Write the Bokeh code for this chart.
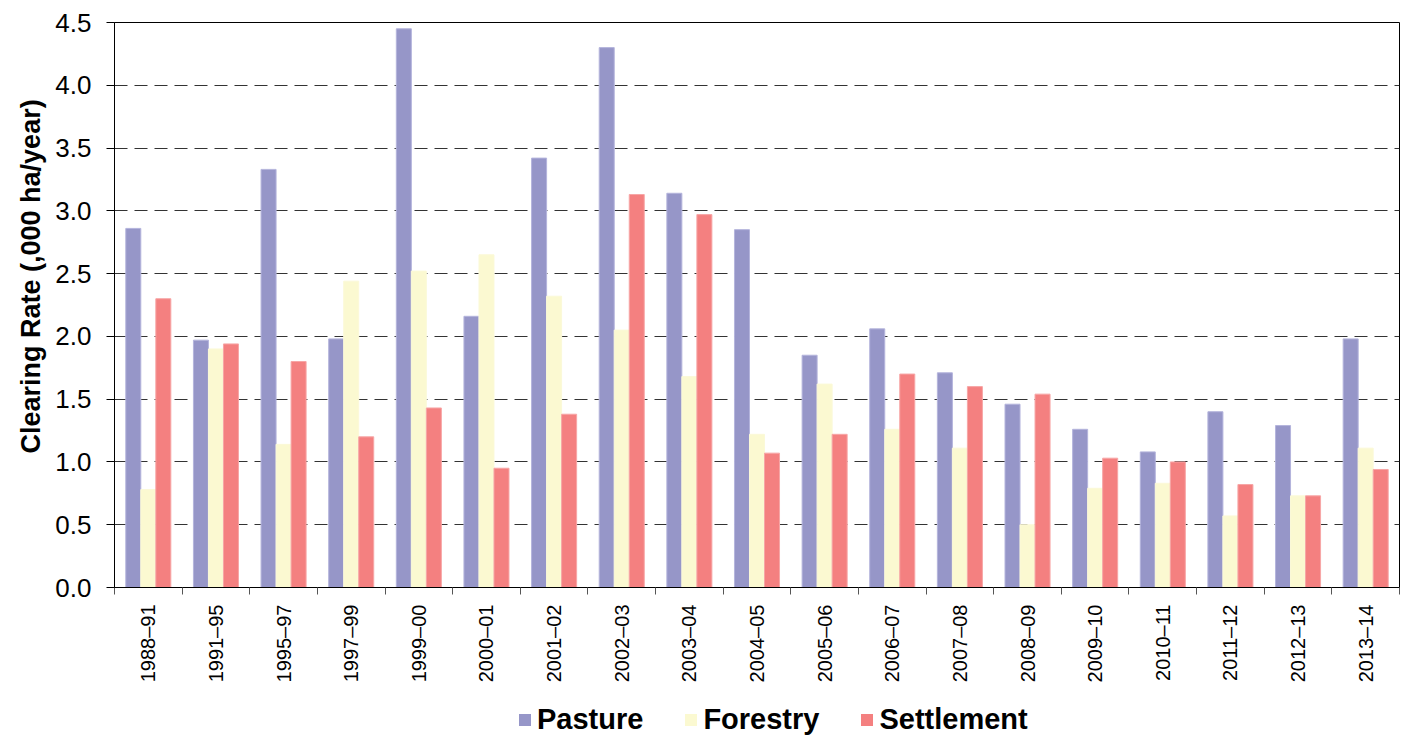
import math
from bokeh.plotting import figure
from bokeh.layouts import column
from bokeh.models import (ColumnDataSource, FixedTicker, Range1d, Legend, LegendItem,
                          NumeralTickFormatter, Title)
from bokeh.transform import dodge
from bokeh.embed import file_html
from bokeh.resources import INLINE

periods = ["1988–91", "1991–95", "1995–97", "1997–99", "1999–00", "2000–01", "2001–02",
           "2002–03", "2003–04", "2004–05", "2005–06", "2006–07", "2007–08", "2008–09",
           "2009–10", "2010–11", "2011–12", "2012–13", "2013–14"]
pasture = [2.86, 1.97, 3.33, 1.98, 4.45, 2.16, 3.42, 4.30, 3.14, 2.85, 1.85, 2.06, 1.71,
           1.46, 1.26, 1.08, 1.40, 1.29, 1.98]
forestry = [0.78, 1.90, 1.14, 2.44, 2.52, 2.65, 2.32, 2.05, 1.68, 1.22, 1.62, 1.26, 1.11,
            0.50, 0.79, 0.83, 0.57, 0.73, 1.11]
settlement = [2.30, 1.94, 1.80, 1.20, 1.43, 0.95, 1.38, 3.13, 2.97, 1.07, 1.22, 1.70, 1.60,
              1.54, 1.03, 1.00, 0.82, 0.73, 0.94]
y_ticks = [0.0, 0.5, 1.0, 1.5, 2.0, 2.5, 3.0, 3.5, 4.0, 4.5]
series_names = ["Pasture", "Forestry", "Settlement"]
y_title = "Clearing Rate (,000 ha/year)"

FONT = "Liberation Sans"
n = len(periods)
centers = [i + 0.5 for i in range(n)]
src = ColumnDataSource(dict(x=centers, pasture=pasture, forestry=forestry, settlement=settlement))

p = figure(width=1405, height=690, output_backend="svg", toolbar_location=None,
           x_range=Range1d(0, n), y_range=Range1d(0, 4.5),
           min_border_left=114, min_border_right=6, min_border_top=22, min_border_bottom=103)

bw = 0.222
fills = ["#9696C8", "#FBF9D1", "#F48080"]
lines = ["#B4B4DC", "#FBF9D8", "#F7A6A6"]
keys = ["pasture", "forestry", "settlement"]
for key, off, fc, lc in zip(keys, [-bw, 0, bw], fills, lines):
    p.vbar(x=dodge("x", off, range=p.x_range), top=key, width=bw, source=src,
           fill_color=fc, line_color=lc, line_width=1)

# x axis: labels at group centers, ticks at group boundaries
p.xaxis.ticker = FixedTicker(ticks=centers, minor_ticks=list(range(n + 1)))
p.xaxis.major_label_overrides = {c: lab for c, lab in zip(centers, periods)}
p.xaxis.major_label_orientation = math.pi / 2
p.xaxis.major_tick_out = 0
p.xaxis.major_tick_in = 0
p.xaxis.minor_tick_out = 7
p.xaxis.minor_tick_in = 0
p.xaxis.minor_tick_line_color = "#555555"
p.xaxis.axis_line_color = "black"
p.xaxis.major_label_text_font = FONT
p.xaxis.major_label_text_font_size = "20px"
p.xaxis.major_label_text_color = "black"
p.xaxis.major_label_standoff = 10

p.yaxis.ticker = FixedTicker(ticks=y_ticks)
p.yaxis.formatter = NumeralTickFormatter(format="0.0")
p.yaxis.major_tick_out = 8
p.yaxis.major_tick_in = 0
p.yaxis.major_tick_line_color = "black"
p.yaxis.minor_tick_line_color = None
p.yaxis.axis_line_color = "black"
p.yaxis.major_label_text_font = FONT
p.yaxis.major_label_text_font_size = "26px"
p.yaxis.major_label_text_color = "black"
p.yaxis.major_label_standoff = 15

p.add_layout(Title(text=y_title, align="left", offset=134, standoff=14,
                   text_font=FONT, text_font_size="27px", text_font_style="bold",
                   text_color="black"), "left")

p.xgrid.grid_line_color = None
p.ygrid.grid_line_color = "#333333"
p.ygrid.grid_line_dash = "13 7"
p.ygrid.grid_line_width = 1

p.outline_line_color = "black"
p.outline_line_width = 1

# legend strip below the chart (its frame is aligned with the chart frame)
pl = figure(width=1405, height=46, output_backend="svg", toolbar_location=None,
            x_range=Range1d(0, 1), y_range=Range1d(0, 1),
            min_border_left=0, min_border_right=0, min_border_top=0, min_border_bottom=0)
pl.axis.visible = False
pl.grid.grid_line_color = None
pl.outline_line_color = None
items = []
for nm, fc in zip(series_names, fills):
    # zero-size key glyph: only its style is used by the legend
    r = pl.vbar(x=[0.5], top=[0.5], bottom=[0.5], width=0, fill_color=fc, line_color=None)
    items.append(LegendItem(label=nm, renderers=[r]))
legend = Legend(items=items, orientation="horizontal", location=(403, 0),
                label_text_font=FONT, label_text_font_size="29px", label_text_font_style="bold",
                label_text_color="black", glyph_width=15, glyph_height=15, label_standoff=5,
                spacing=40, padding=0, margin=0, border_line_color=None, background_fill_alpha=0)
pl.add_layout(legend, "center")

layout = column(p, pl, spacing=0)
open("out.html", "w").write(file_html(layout, INLINE))
